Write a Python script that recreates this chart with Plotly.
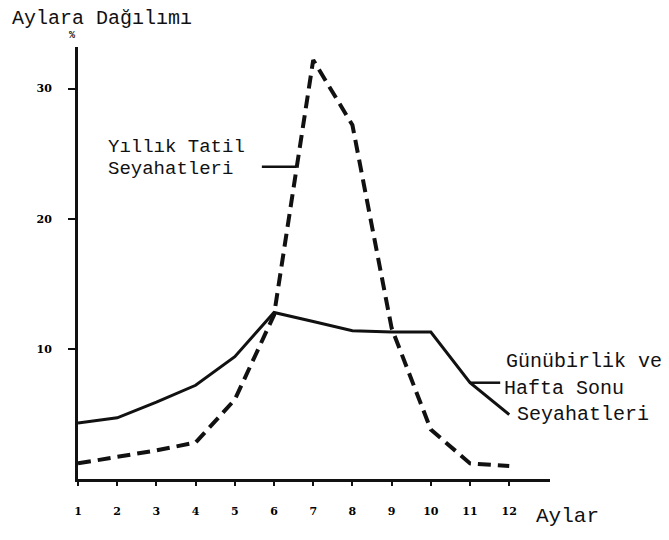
import plotly.graph_objects as go

# ---- data ----
months = [1, 2, 3, 4, 5, 6, 7, 8, 9, 10, 11, 12]
yillik_tatil = [1.2, 1.7, 2.2, 2.8, 6.1, 12.6, 32.2, 27.2, 11.6, 3.8, 1.2, 1.0]
gunubirlik = [4.3, 4.7, 5.9, 7.2, 9.4, 12.8, 12.1, 11.4, 11.3, 11.3, 7.4, 4.95]
x_tick_vals = [1, 2, 3, 4, 5, 6, 7, 8, 9, 10, 11, 12]
x_tick_text = ["1", "2", "3", "4", "5", "6", "7", "8", "9", "10", "11", "12"]
y_tick_vals = [10, 20, 30]
y_tick_text = ["10", "20", "30"]

# ---- layout geometry (pixels) ----
W, H = 669, 540
L, R, T, B = 78, 119, 47, 61
PW, PH = W - L - R, H - T - B


def paper(px, py):
    return (px - L) / PW, (H - B - py) / PH


TYPE = "Liberation Mono"
INK = "#111111"

fig = go.Figure()
fig.add_trace(go.Scatter(
    x=months, y=yillik_tatil, mode="lines",
    line=dict(color=INK, width=4, dash="13px,7px"),
    name="Yıllık Tatil Seyahatleri", showlegend=False))
fig.add_trace(go.Scatter(
    x=months, y=gunubirlik, mode="lines",
    line=dict(color=INK, width=3),
    name="Günübirlik ve Hafta Sonu Seyahatleri", showlegend=False))

annotations = []


def text(s, px, py, size=20, anchor="left", bold=False, family=TYPE):
    xx, yy = paper(px, py)
    annotations.append(dict(
        text=("<b>%s</b>" % s) if bold else s, x=xx, y=yy,
        xref="paper", yref="paper", xanchor=anchor, yanchor="middle",
        showarrow=False, borderpad=0,
        font=dict(family=family, size=size, color=INK)))


text("Aylara Dağılımı", 11, 19, size=20)
text("%", 72, 35, size=10, anchor="center", bold=True)
text("Yıllık Tatil", 107, 147, size=19)
text("Seyahatleri", 107, 169, size=19)
text("Günübirlik ve", 505, 361, size=20)
text("Hafta Sonu", 503, 388, size=20)
text("Seyahatleri", 516, 414, size=20)
text("Aylar", 535, 516, size=21)

shapes = [
    dict(type="line", xref="x", yref="y", x0=5.69, x1=6.58, y0=24.0, y1=24.0,
         line=dict(color=INK, width=2.5)),
    dict(type="line", xref="x", yref="y", x0=11.0, x1=11.77, y0=7.4, y1=7.4,
         line=dict(color=INK, width=2.5)),
]

fig.update_layout(
    width=W, height=H, autosize=False,
    margin=dict(l=L, r=R, t=T, b=B, pad=0),
    paper_bgcolor="white", plot_bgcolor="white",
    annotations=annotations, shapes=shapes,
    xaxis=dict(
        range=[1, 13.04], tickmode="array", tickvals=x_tick_vals,
        ticktext=["<b>%s</b>" % t for t in x_tick_text],
        showgrid=False, zeroline=False,
        showline=True, linecolor=INK, linewidth=3,
        ticks="outside", ticklen=4, tickwidth=2, tickcolor=INK,
        ticklabelstandoff=16,
        tickfont=dict(family="DejaVu Serif", size=11, color="#000000")),
    yaxis=dict(
        range=[0, 33.2], tickmode="array", tickvals=y_tick_vals,
        ticktext=["<b>%s</b>" % t for t in y_tick_text],
        showgrid=False, zeroline=False,
        showline=True, linecolor=INK, linewidth=3,
        ticks="outside", ticklen=7, tickwidth=2, tickcolor=INK,
        ticklabelstandoff=14,
        tickfont=dict(family="DejaVu Serif", size=11, color="#000000")),
)

fig.write_html("out.html", config={"displayModeBar": False},
               post_script="document.body.style.margin='0px';")
